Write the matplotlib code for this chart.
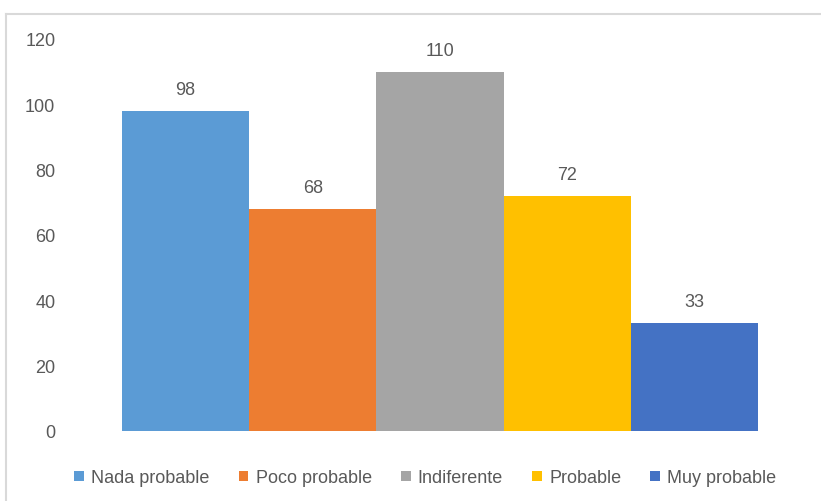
import matplotlib
matplotlib.use('Agg')
import matplotlib.pyplot as plt
from matplotlib.lines import Line2D

categorias = ['Nada probable', 'Poco probable', 'Indiferente', 'Probable', 'Muy probable']
valores = [98, 68, 110, 72, 33]
colores = ['#5B9BD5', '#ED7D31', '#A5A5A5', '#FFC000', '#4472C4']
yticks = [0, 20, 40, 60, 80, 100, 120]

plt.rcParams['font.family'] = ['Liberation Sans', 'DejaVu Sans']
gris = '#595959'

fig = plt.figure(figsize=(8.21, 5.02), dpi=100)
ax = fig.add_axes([122/821, 70/502, (758-122)/821, (432-40)/502])

for i in range(len(valores)):
    ax.bar(i, valores[i], width=1.0, color=colores[i], label=categorias[i])
    ax.text(i, valores[i] + 4, str(valores[i]), ha='center', va='bottom',
            fontsize=13, color=gris)

ax.set_xlim(-0.5, len(valores) - 0.5)
ax.set_ylim(0, 120)
ax.set_yticks(yticks)
ax.set_xticks([])
ax.tick_params(axis='y', length=0, pad=48, labelsize=13, labelcolor=gris)
for s in ax.spines.values():
    s.set_visible(False)

fig.legend(loc='center', bbox_to_anchor=(0.518, 0.046), ncol=5, frameon=False,
           fontsize=13, labelcolor=gris, handlelength=0.55, handleheight=0.55,
           handletextpad=0.4, columnspacing=1.6)

# borde del grafico
fig.add_artist(Line2D([6/821, 1], [1 - 15/502, 1 - 15/502], color='#D9D9D9', lw=1.5))
fig.add_artist(Line2D([6/821, 6/821], [0, 1 - 15/502], color='#D9D9D9', lw=1.5))

fig.savefig('out.png', dpi=100)
